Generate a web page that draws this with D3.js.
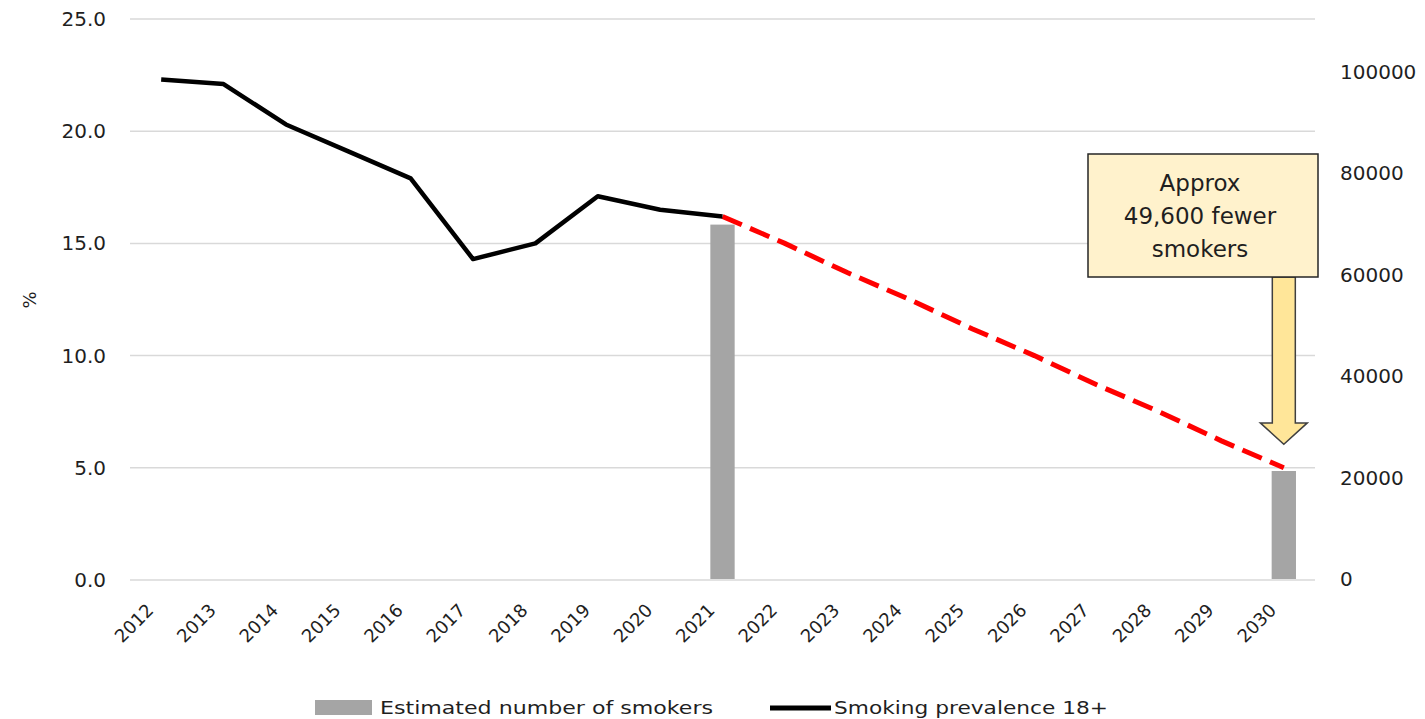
<!DOCTYPE html>
<html>
<head>
<meta charset="utf-8">
<script src="https://cdn.jsdelivr.net/npm/d3@7"></script>
<style>
  body { margin: 0; background: #fff; }
  text { font-family: "DejaVu Sans", sans-serif; fill: #1f1f1f; }
</style>
</head>
<body>
<svg id="chart" width="1425" height="719"></svg>
<script>
'use strict';

// data
const years = ['2012', '2013', '2014', '2015', '2016', '2017', '2018', '2019', '2020', '2021',
  '2022', '2023', '2024', '2025', '2026', '2027', '2028', '2029', '2030'];
const prevalenceYears = ['2012', '2013', '2014', '2015', '2016', '2017', '2018', '2019', '2020', '2021'];
const prevalence = [22.3, 22.1, 20.3, 19.1, 17.9, 14.3, 15.0, 17.1, 16.5, 16.2];
const projectionYears = ['2021', '2022', '2023', '2024', '2025', '2026', '2027', '2028', '2029', '2030'];
const projection = [16.2, 15.0, 13.7, 12.5, 11.2, 10.0, 8.7, 7.5, 6.2, 5.0];
const smokerYears = ['2021', '2030'];
const smokers = [69900, 21300];
const leftTicks = [0, 5, 10, 15, 20, 25];
const rightTicks = [0, 20000, 40000, 60000, 80000, 100000];
const noteLines = ['Approx', '49,600 fewer', 'smokers'];

const svg = d3.select('#chart');

let x = d3.scaleBand().domain(years).range([130, 1315]);
let yLeft = d3.scaleLinear().domain([0, 25]).range([580, 19]);
let yRight = d3.scaleLinear().domain([0, 100000]).range([579, 72]);
let cx = function(d) { return x(d) + x.bandwidth() / 2; };

// gridlines
svg.append('g')
  .selectAll('line')
  .data(leftTicks)
  .enter().append('line')
    .attr('x1', 130)
    .attr('x2', 1315)
    .attr('y1', function(d) { return yLeft(d); })
    .attr('y2', function(d) { return yLeft(d); })
    .attr('stroke', '#d9d9d9')
    .attr('stroke-width', 1.5);

// left axis
let leftAxis = svg.append('g')
  .attr('transform', 'translate(106,0)')
  .call(d3.axisLeft(yLeft).tickValues(leftTicks).tickFormat(d3.format('.1f')).tickSize(0).tickPadding(0));
leftAxis.select('.domain').remove();
leftAxis.selectAll('text')
  .style('font-family', '"DejaVu Sans", sans-serif')
  .style('font-size', '20px')
  .attr('fill', '#1f1f1f');

// right axis
let rightAxis = svg.append('g')
  .attr('transform', 'translate(1340,0)')
  .call(d3.axisRight(yRight).tickValues(rightTicks).tickFormat(d3.format('d')).tickSize(0).tickPadding(0));
rightAxis.select('.domain').remove();
rightAxis.selectAll('text')
  .style('font-family', '"DejaVu Sans", sans-serif')
  .style('font-size', '20px')
  .attr('fill', '#1f1f1f');

// x axis labels
let xAxis = svg.append('g')
  .attr('transform', 'translate(0,580)')
  .call(d3.axisBottom(x).tickSize(0).tickPadding(0));
xAxis.select('.domain').remove();
xAxis.selectAll('text')
  .style('font-family', '"DejaVu Sans", sans-serif')
  .style('font-size', '18px')
  .attr('fill', '#1f1f1f')
  .attr('text-anchor', 'end')
  .attr('dy', '0.35em')
  .attr('transform', 'translate(-11,27) rotate(-45)');

// y title
svg.append('text')
  .attr('transform', 'translate(36,300) rotate(-90)')
  .attr('text-anchor', 'middle')
  .style('font-size', '18px')
  .text('%');

// bars on right axis
let barW = x.bandwidth() * 0.39;
svg.append('g')
  .selectAll('rect')
  .data(smokerYears.map(function(d, i) { return { year: d, value: smokers[i] }; }))
  .enter().append('rect')
    .attr('x', function(d) { return cx(d.year) - barW / 2; })
    .attr('y', function(d) { return yRight(d.value); })
    .attr('width', barW)
    .attr('height', function(d) { return yRight(0) - yRight(d.value); })
    .attr('fill', '#a5a5a5');

let line = d3.line()
  .x(function(d) { return cx(d.year); })
  .y(function(d) { return yLeft(d.value); });

// projection (red dashed)
svg.append('path')
  .datum(projectionYears.map(function(d, i) { return { year: d, value: projection[i] }; }))
  .attr('d', line)
  .attr('fill', 'none')
  .attr('stroke', '#ff0000')
  .attr('stroke-width', 5)
  .attr('stroke-dasharray', '21,9');

// prevalence line
svg.append('path')
  .datum(prevalenceYears.map(function(d, i) { return { year: d, value: prevalence[i] }; }))
  .attr('d', line)
  .attr('fill', 'none')
  .attr('stroke', '#000')
  .attr('stroke-width', 4.5)
  .attr('stroke-linejoin', 'round');

// annotation arrow
let ax = cx('2030');
let shaftTop = 277;
let headBase = yLeft(7.0);
let tip = yLeft(6.05);
let arrowPts = [
  [ax - 11.5, shaftTop], [ax + 11.5, shaftTop], [ax + 11.5, headBase], [ax + 23.5, headBase],
  [ax, tip], [ax - 23.5, headBase], [ax - 11.5, headBase]
];
svg.append('path')
  .attr('d', d3.line()(arrowPts) + 'Z')
  .attr('fill', '#ffe699')
  .attr('stroke', '#404040')
  .attr('stroke-width', 1.5);

// annotation box
svg.append('rect')
  .attr('x', 1088)
  .attr('y', 154)
  .attr('width', 230)
  .attr('height', 123)
  .attr('fill', '#fff2cc')
  .attr('stroke', '#262626')
  .attr('stroke-width', 1.5);

svg.append('g')
  .selectAll('text')
  .data(noteLines)
  .enter().append('text')
    .attr('x', 1200)
    .attr('y', function(d, i) { return 191 + i * 33; })
    .attr('text-anchor', 'middle')
    .style('font-size', '23px')
    .text(function(d) { return d; });

// legend
let legend = svg.append('g');
legend.append('rect')
  .attr('x', 315)
  .attr('y', 700)
  .attr('width', 57)
  .attr('height', 15)
  .attr('fill', '#a5a5a5');
legend.append('text')
  .attr('x', 380)
  .attr('y', 714)
  .attr('textLength', 333)
  .attr('lengthAdjust', 'spacingAndGlyphs')
  .style('font-size', '18px')
  .text('Estimated number of smokers');
legend.append('line')
  .attr('x1', 770)
  .attr('x2', 831)
  .attr('y1', 708)
  .attr('y2', 708)
  .attr('stroke', '#000')
  .attr('stroke-width', 5);
legend.append('text')
  .attr('x', 834)
  .attr('y', 714)
  .attr('textLength', 274)
  .attr('lengthAdjust', 'spacingAndGlyphs')
  .style('font-size', '18px')
  .text('Smoking prevalence 18+');
</script>
</body>
</html>
